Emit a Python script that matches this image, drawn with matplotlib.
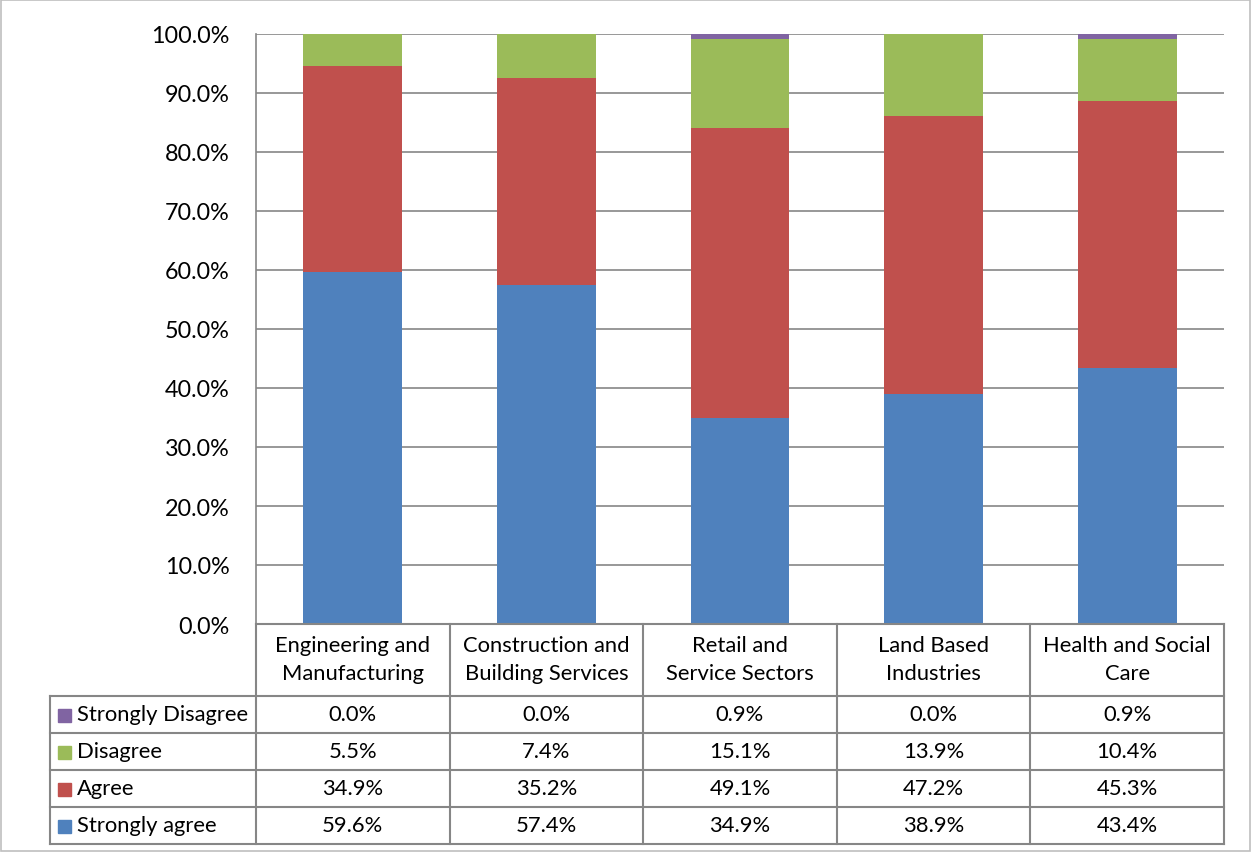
import matplotlib.pyplot as plt
import numpy as np

plt.rcParams['font.family'] = ['Lato', 'DejaVu Sans']

categories = ["Engineering and\nManufacturing", "Construction and\nBuilding Services",
              "Retail and\nService Sectors", "Land Based\nIndustries", "Health and Social\nCare"]
series_names = ["Strongly Disagree", "Disagree", "Agree", "Strongly agree"]
strongly_agree = [59.6, 57.4, 34.9, 38.9, 43.4]
agree = [34.9, 35.2, 49.1, 47.2, 45.3]
disagree = [5.5, 7.4, 15.1, 13.9, 10.4]
strongly_disagree = [0.0, 0.0, 0.9, 0.0, 0.9]

colors = {"Strongly agree": "#4F81BD", "Agree": "#C0504D",
          "Disagree": "#9BBB59", "Strongly Disagree": "#8064A2"}
values = {"Strongly agree": strongly_agree, "Agree": agree,
          "Disagree": disagree, "Strongly Disagree": strongly_disagree}

W, H = 1252, 854
fig = plt.figure(figsize=(W / 100, H / 100), dpi=100)
grid_col = "#868686"
fs = 15.8

# plot area in pixels
px0, px1, py_top, py_bot = 256, 1224, 35, 625
ax = fig.add_axes([px0 / W, 1 - py_bot / H, (px1 - px0) / W, (py_bot - py_top) / H])

x = np.arange(len(categories))
bottom = np.zeros(len(categories))
for name in ["Strongly agree", "Agree", "Disagree", "Strongly Disagree"]:
    v = np.array(values[name])
    ax.bar(x, v, 0.51, bottom=bottom, color=colors[name], zorder=3)
    bottom += v

ax.set_xlim(-0.5, len(categories) - 0.5)
ax.set_ylim(0, 100)
ax.set_yticks(np.arange(0, 101, 10))
ax.set_yticklabels([f"{t:.1f}%" for t in np.arange(0, 101, 10)], fontsize=16.8)
ax.tick_params(axis='y', length=0, pad=19)
ax.set_xticks([])
ax.grid(axis='y', color=grid_col, linewidth=1.2, zorder=1)
for s in ["top", "right", "bottom"]:
    ax.spines[s].set_visible(False)
ax.spines["left"].set_color(grid_col)
ax.spines["left"].set_linewidth(1.2)

# data table below the plot area
tx0, ty_top, ty_hdr, ty_bot = 50, 625, 697, 845
tab = fig.add_axes([0, 0, 1, 1], facecolor="none")
tab.set_xlim(0, W)
tab.set_ylim(H, 0)
tab.axis("off")
col_w = (px1 - px0) / len(categories)
row_h = (ty_bot - ty_hdr) / len(series_names)
lk = dict(color=grid_col, linewidth=1.5)

tab.plot([px0, px1], [ty_top, ty_top], **lk)
for i in range(len(series_names) + 1):
    y = ty_hdr + i * row_h
    tab.plot([tx0, px1], [y, y], **lk)
tab.plot([tx0, tx0], [ty_hdr, ty_bot], **lk)
for j in range(len(categories) + 1):
    xx = px0 + j * col_w
    tab.plot([xx, xx], [ty_top, ty_bot], **lk)

for j, cat in enumerate(categories):
    tab.text(px0 + (j + 0.5) * col_w, (ty_top + ty_hdr) / 2 - 1, cat,
             ha="center", va="center", fontsize=fs, linespacing=1.45)

for i, name in enumerate(series_names):
    yc = ty_hdr + (i + 0.5) * row_h
    tab.add_patch(plt.Rectangle((58, yc - 6), 13, 13, color=colors[name]))
    tab.text(77, yc, name, ha="left", va="center", fontsize=fs)
    for j, v in enumerate(values[name]):
        tab.text(px0 + (j + 0.5) * col_w, yc, f"{v:.1f}%", ha="center", va="center", fontsize=fs)

# chart border
tab.add_patch(plt.Rectangle((1, 1), W - 3, H - 3, fill=False, edgecolor="#BFBFBF", linewidth=1.2))

fig.savefig("out.png", dpi=100)
